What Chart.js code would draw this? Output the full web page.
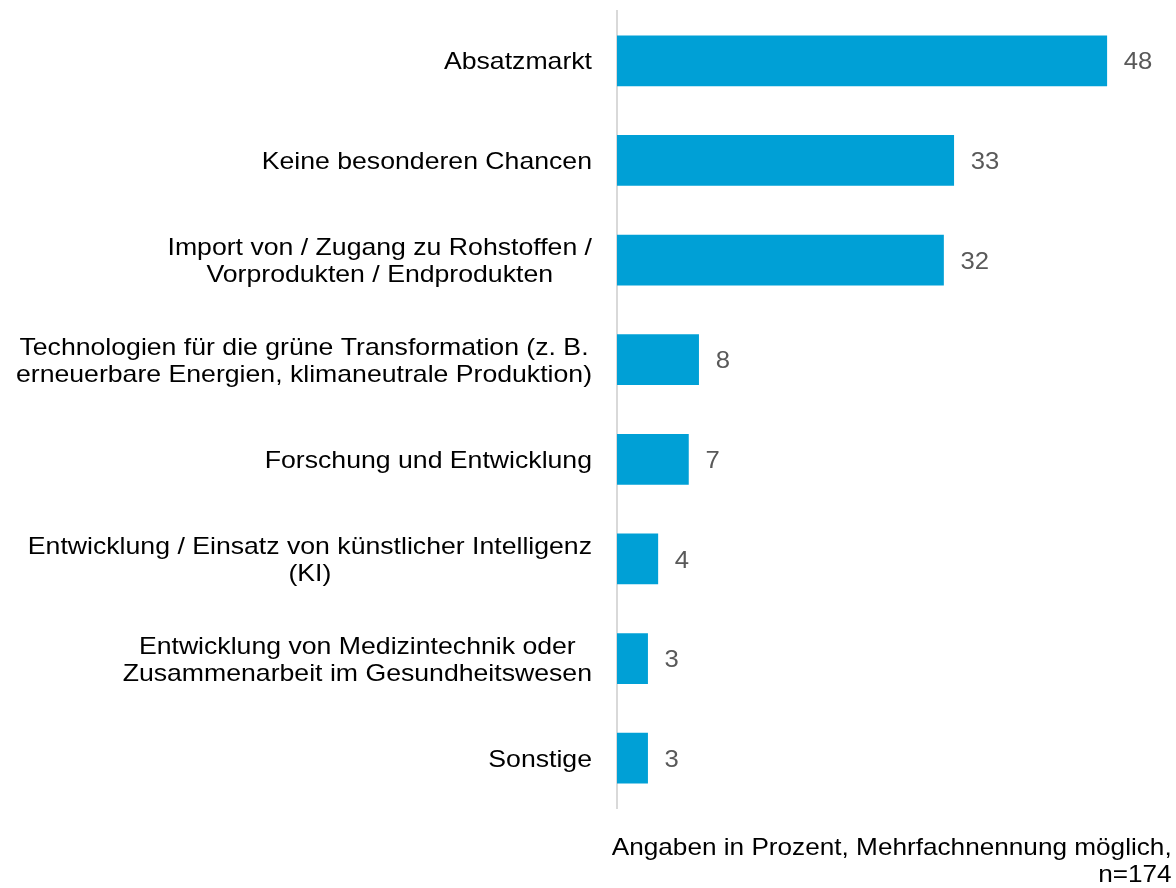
<!DOCTYPE html>
<html>
<head>
<meta charset="utf-8">
<script src="https://cdn.jsdelivr.net/npm/chart.js@4"></script>
<style>
  html, body { margin: 0; padding: 0; background: #fff; }
  #wrap { position: relative; width: 1176px; height: 888px; overflow: hidden; }
  #note { position: absolute; right: 4px; top: 833px; text-align: right; white-space: nowrap;
          font: 24px "Liberation Sans", Arial, sans-serif; line-height: 27px; color: #000;
          transform: scaleX(1.09); transform-origin: right top; }
</style>
</head>
<body>
<div id="wrap">
  <canvas id="c" width="1176" height="888"></canvas>
  <div id="note">Angaben in Prozent, Mehrfachnennung möglich,<br>n=174</div>
</div>
<script>
const categories = [
  "Absatzmarkt",
  "Keine besonderen Chancen",
  ["Import von / Zugang zu Rohstoffen /", "Vorprodukten / Endprodukten"],
  ["Technologien für die grüne Transformation (z. B.", "erneuerbare Energien, klimaneutrale Produktion)"],
  "Forschung und Entwicklung",
  ["Entwicklung / Einsatz von künstlicher Intelligenz", "(KI)"],
  ["Entwicklung von Medizintechnik oder", "Zusammenarbeit im Gesundheitswesen"],
  "Sonstige"
];
const values = [48, 33, 32, 8, 7, 4, 3, 3];

const FONT = '"Liberation Sans", Arial, sans-serif';
const SX = 1.11;

const labelPlugin = {
  id: 'labels',
  afterDraw(chart) {
    const ctx = chart.ctx;
    const ys = chart.scales.y;
    ctx.save();
    ctx.font = '24px ' + FONT;
    ctx.textBaseline = 'middle';
    categories.forEach((lab, i) => {
      const lines = Array.isArray(lab) ? lab : [lab];
      const cy = ys.getPixelForValue(i) + 2;
      const maxW = Math.max(...lines.map(l => ctx.measureText(l).width)) * SX;
      const cx = chart.chartArea.left - 25 - maxW / 2;
      ctx.fillStyle = '#000000';
      ctx.textAlign = 'center';
      const lh = 27;
      lines.forEach((l, j) => {
        ctx.save();
        ctx.translate(cx, cy + (j - (lines.length - 1) / 2) * lh);
        ctx.scale(SX, 1);
        ctx.fillText(l, 0, 0);
        ctx.restore();
      });
    });
    const meta = chart.getDatasetMeta(0);
    ctx.fillStyle = '#595959';
    ctx.textAlign = 'left';
    meta.data.forEach((bar, i) => {
      ctx.save();
      ctx.translate(bar.x + 17, bar.y + 2);
      ctx.scale(1.07, 1);
      ctx.fillText(String(values[i]), 0, 0);
      ctx.restore();
    });
    ctx.restore();
  }
};

new Chart(document.getElementById('c'), {
  type: 'bar',
  data: {
    labels: categories,
    datasets: [{
      data: values,
      backgroundColor: '#00A0D6',
      borderWidth: 0,
      barThickness: 50
    }]
  },
  options: {
    indexAxis: 'y',
    responsive: false,
    animation: false,
    events: [],
    layout: { padding: { left: 0, right: 8, top: 11, bottom: 80 } },
    plugins: { legend: { display: false }, tooltip: { enabled: false } },
    scales: {
      x: { min: 0, max: 54, display: false },
      y: {
        position: 'left',
        grid: { display: false, drawTicks: false },
        border: { display: true, color: '#D9D9D9', width: 2 },
        ticks: { display: false },
        afterFit(scale) { scale.width = 617; }
      }
    }
  },
  plugins: [labelPlugin]
});
</script>
</body>
</html>
